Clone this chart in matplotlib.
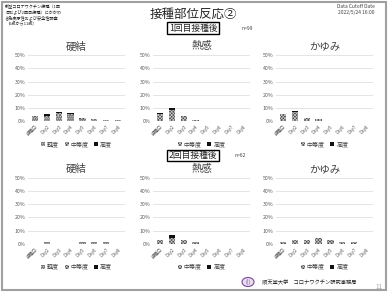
import matplotlib
matplotlib.use("Agg")
import matplotlib.pyplot as plt
from matplotlib.patches import Rectangle, Circle
import numpy as np

plt.rcParams['font.family'] = ['Noto Sans CJK JP', 'DejaVu Sans']
plt.rcParams['hatch.linewidth'] = 0.5

# -------- data (percent of participants) --------
days = ['接種日', 'Day2', 'Day3', 'Day4', 'Day5', 'Day6', 'Day7', 'Day8']
levels = ['軽度', '中等度', '高度']

# after 1st dose (n=99)
d1_hard_mild = [3, 3, 4, 5, 2, 1, 1, 1]
d1_hard_mod = [1.5, 1, 2.5, 1, 1, 1, 0.2, 0.2]
d1_hard_sev = [0, 1.5, 1, 0.2, 0, 0, 0, 0]
d1_heat_mod = [6, 8.5, 4, 1, 0, 0, 0, 0]
d1_heat_sev = [0.5, 1.5, 0.5, 0, 0, 0, 0, 0]
d1_itch_mod = [5.5, 7.5, 3, 2, 0, 0, 0, 0]
d1_itch_sev = [0.3, 0.5, 0, 0, 0, 0, 0, 0]

# after 2nd dose (n=62)
d2_hard_mild = [0, 1.6, 0, 0, 1.6, 1.6, 1.6, 0]
d2_hard_mod = [0, 0, 0, 0, 0, 0, 0, 0]
d2_hard_sev = [0, 0, 0, 0, 0, 0, 0, 0]
d2_heat_mod = [3.2, 4.8, 3.2, 1.6, 0, 0, 0, 0]
d2_heat_sev = [0, 1.6, 0, 0, 0, 0, 0, 0]
d2_itch_mod = [1.6, 3.2, 3.2, 4.8, 3.2, 1.6, 1.6, 0]
d2_itch_sev = [0, 0, 0, 0, 0, 0, 0, 0]

styles = {
    '軽度': dict(facecolor='#7a7a7a', hatch='.' * 8, edgecolor='#e0e0e0'),
    '中等度': dict(facecolor='#4a4a4a', hatch='x' * 10, edgecolor='#c8c8c8'),
    '高度': dict(facecolor='#111111', edgecolor='#111111'),
}

W, H = 388, 292
fig = plt.figure(figsize=(W / 100, H / 100), dpi=100)
fig.patch.set_facecolor('white')

# slide frame
fig.add_artist(Rectangle((0.004, 0.006), 0.992, 0.988, transform=fig.transFigure,
                         fill=False, edgecolor='#a0a0a0', linewidth=1.5))


def px(x, y):
    return x / W, 1 - y / H


def panel(left, top, title, series, legend_levels):
    x0, y0 = px(left, top + 66.5)
    ax = fig.add_axes([x0, y0, 97 / W, 66.5 / H])
    x = np.arange(len(days))
    bottom = np.zeros(len(days))
    for lvl, vals in series:
        ax.bar(x, vals, 0.55, bottom=bottom, linewidth=0, label=lvl, **styles[lvl])
        bottom += np.array(vals)
    ax.set_ylim(0, 50)
    ax.set_xlim(-0.6, len(days) - 0.4)
    ax.set_yticks(range(0, 51, 10))
    ax.set_yticklabels([f'{v}%' for v in range(0, 51, 10)], fontsize=3.8, color='#595959')
    ax.set_xticks(x)
    ax.set_xticklabels(days, fontsize=3.2, color='#595959', rotation=45, ha='right',
                       rotation_mode='anchor')
    ax.tick_params(length=0, pad=2)
    ax.grid(axis='y', color='#d9d9d9', linewidth=0.5)
    ax.set_axisbelow(True)
    for s in ax.spines.values():
        s.set_visible(False)
    ax.set_title(title, fontsize=7.5, color='#404040', pad=4)
    handles, labels = ax.get_legend_handles_labels()
    keep = [(h, l) for h, l in zip(handles, labels) if l in legend_levels]
    ax.legend([h for h, _ in keep], [l for _, l in keep], loc='upper center',
              bbox_to_anchor=(0.5, -0.22), ncol=3, frameon=False, fontsize=4.3,
              handlelength=0.7, handleheight=0.7, handletextpad=0.3,
              columnspacing=0.9, labelcolor='#404040')
    return ax


row1, row2 = 55, 177.5
both = ['中等度', '高度']
panel(28, row1, '硬結', [('軽度', d1_hard_mild), ('中等度', d1_hard_mod), ('高度', d1_hard_sev)],
      levels)
panel(153, row1, '熱感', [('中等度', d1_heat_mod), ('高度', d1_heat_sev)], both)
panel(276, row1, 'かゆみ', [('中等度', d1_itch_mod), ('高度', d1_itch_sev)], both)
panel(28, row2, '硬結', [('軽度', d2_hard_mild), ('中等度', d2_hard_mod), ('高度', d2_hard_sev)],
      levels)
panel(153, row2, '熱感', [('中等度', d2_heat_mod), ('高度', d2_heat_sev)], both)
panel(276, row2, 'かゆみ', [('中等度', d2_itch_mod), ('高度', d2_itch_sev)], both)

# headers
fig.text(*px(5, 3), '新型コロナワクチン接種（1回\n目および2回目接種）にかかわ\nる免疫原性および安全性調査\n（5歳から11歳）',
         fontsize=3, va='top', ha='left', color='#262626', linespacing=1.3)
fig.text(*px(193, 14), '接種部位反応②', fontsize=9, ha='center', va='center', color='#262626')
fig.text(*px(375, 4), 'Data Cutoff Date\n2022/5/24 16:00', fontsize=3.5, ha='right', va='top',
         color='#404040', multialignment='right', linespacing=1.2)

for cy, label, n, nx in [(28, '1回目接種後', 'n=99', 241), (155.5, '2回目接種後', 'n=62', 235)]:
    fig.text(*px(193, cy), label, fontsize=6.3, ha='center', va='center', color='#262626',
             bbox=dict(boxstyle='square,pad=0.15', facecolor='white', edgecolor='black',
                       linewidth=1))
    fig.text(*px(nx, cy), n, fontsize=3.6, ha='left', va='center', color='#404040')

# footer
lx, ly = px(248, 282)
fig.add_artist(Circle((lx, ly), 6 / W, transform=fig.transFigure, facecolor='#e8dcef',
                      edgecolor='#7a4a9a', linewidth=0.8))
fig.text(lx, ly, '(|)', fontsize=4, ha='center', va='center', color='#7a4a9a')
fig.text(*px(262, 283), '順天堂大学　コロナワクチン研究事務局', fontsize=3.8, ha='left', va='center',
         color='#262626')
fig.text(*px(382, 287), '11', fontsize=4.5, ha='right', va='center', color='#a0a0a0')

fig.savefig('out.png', dpi=100)
